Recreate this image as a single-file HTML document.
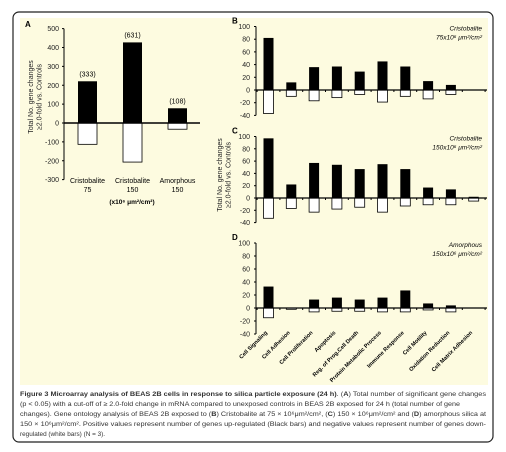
<!DOCTYPE html>
<html><head><meta charset="utf-8"><style>
body{margin:0;background:#fff;width:506px;height:452px;overflow:hidden;font-family:"Liberation Sans",sans-serif}
svg{display:block}
</style></head><body>
<svg width="506" height="452" font-family="Liberation Sans, sans-serif">
<rect x="13" y="12" width="480" height="430" rx="6" fill="#fff" stroke="#222" stroke-width="1.2"/>
<rect x="20" y="18" width="468" height="367" fill="#fdfbe0"/>
<g id="A"></g>
<g id="B"></g>
<g id="C"></g>
<g id="D"></g>
<g id="cats"></g>
<g font-size="6.4" fill="#333">
<text x="20" y="396" textLength="466" lengthAdjust="spacingAndGlyphs"><tspan font-weight="bold">Figure 3 Microarray analysis of BEAS 2B cells in response to silica particle exposure (24 h)</tspan>. (<tspan font-weight="bold">A</tspan>) Total number of significant gene changes</text>
<text x="20" y="406" textLength="440" lengthAdjust="spacingAndGlyphs">(p &lt; 0.05) with a cut-off of ≥ 2.0-fold change in mRNA compared to unexposed controls in BEAS 2B exposed for 24 h (total number of gene</text>
<text x="20" y="416" textLength="466" lengthAdjust="spacingAndGlyphs">changes). Gene ontology analysis of BEAS 2B exposed to (<tspan font-weight="bold">B</tspan>) Cristobalite at 75 × 10⁶μm²/cm², (<tspan font-weight="bold">C</tspan>) 150 × 10⁶μm²/cm² and (<tspan font-weight="bold">D</tspan>) amorphous silica at</text>
<text x="20" y="426" textLength="466" lengthAdjust="spacingAndGlyphs">150 × 10⁶μm²/cm². Positive values represent number of genes up-regulated (Black bars) and negative values represent number of genes down-</text>
<text x="20" y="436">regulated (white bars) (N = 3).</text>
</g>
</svg>
<script>
const NS="http://www.w3.org/2000/svg";
const aCats=["Cristobalite|75","Cristobalite|150","Amorphous|150"];
const aUp=[221,427,78];
const aDown=[-113,-207,-33];
const aTotals=["(333)","(631)","(108)"];
const aTicks=[500,400,300,200,100,0,-100,-200,-300];
const goCats=["Cell Signaling","Cell Adhesion","Cell Proliferation","Apoptosis","Reg. of Prog.Cell Death","Protein Metabolic Process","Immune Response","Cell Motility","Oxidation Reduction","Cell Matrix Adhesion"];
const bUp=[82,12,36,37,29,45,37,14,8,0];
const bDown=[-37,-10,-17,-12,-7,-19,-10,-14,-7,0];
const cUp=[97,22,57,54,47,55,47,17,14,2];
const cDown=[-33,-17,-23,-18,-15,-23,-13,-11,-11,-5];
const dUp=[33,0,13,16,13,16,27,7,4,0];
const dDown=[-15,-2,-6,-5,-5,-6,-6,-3,-6,0];
const goTicks=[100,80,60,40,20,0,-20,-40];
function el(p,t,a,txt){const e=document.createElementNS(NS,t);for(const k in a)e.setAttribute(k,a[k]);if(txt!==undefined)e.textContent=txt;p.appendChild(e);return e;}
(function(){
 const g=document.getElementById('A');
 const y=v=>123-(v)*151/800;
 const x0=64;
 el(g,'text',{x:25,y:27,'font-size':8,'font-weight':'bold'},'A');
 let ax=el(g,'line',{x1:x0,y1:y(500),x2:x0,y2:y(-300),stroke:'#000','stroke-width':1});
 
 aTicks.forEach(t=>{el(g,'line',{x1:x0-2,x2:x0,y1:y(t),y2:y(t),stroke:'#000'});
  const tx=el(g,'text',{x:x0-5,y:y(t)+2.5,'font-size':7,'text-anchor':'end',fill:'#222'},t);
  });
 const xc=i=>87.5+i*45;
 aCats.forEach((c,i)=>{
  const bu=el(g,'rect',{x:xc(i)-9.5,y:y(aUp[i]),width:19,height:y(0)-y(aUp[i]),fill:'#000'});
  
  const bd=el(g,'rect',{x:xc(i)-9.5,y:y(0),width:19,height:y(aDown[i])-y(0),fill:'#fff',stroke:'#000','stroke-width':0.8});
  
  const tl=el(g,'text',{x:xc(i),y:y(aUp[i])-5,'font-size':7,'text-anchor':'middle'},aTotals[i]);
  
  const p=c.split('|');
  el(g,'text',{x:xc(i),y:183,'font-size':7,'text-anchor':'middle'},p[0]);
  el(g,'text',{x:xc(i),y:192,'font-size':7,'text-anchor':'middle'},p[1]);
 });
 const xa=el(g,'line',{x1:x0,x2:200,y1:y(0),y2:y(0),stroke:'#000','stroke-width':1.5});
 
 el(g,'text',{x:132,y:204,'font-size':6.5,'font-weight':'bold','text-anchor':'middle'},'(x10⁶ μm²/cm²)');
 const yt=el(g,'text',{transform:'translate(33,97) rotate(-90)','font-size':7,'text-anchor':'middle',fill:'#222'});
 
 el(yt,'tspan',{x:0,y:0},'Total No. gene changes');el(yt,'tspan',{x:0,y:8.5},'≥2.0-fold vs. Controls');
})();
function goPanel(id,letter,zeroY,pxPer20,up,down,l1,l2){
 const g=document.getElementById(id);
 const y=v=>zeroY-v*pxPer20/20;
 const x0=256;
 el(g,'text',{x:x0-24,y:y(100)-3,'font-size':8,'font-weight':'bold'},letter);
 const ax=el(g,'line',{x1:x0,x2:x0,y1:y(100),y2:y(-40),stroke:'#000'});
 
 goTicks.forEach(t=>{el(g,'line',{x1:x0-2,x2:x0,y1:y(t),y2:y(t),stroke:'#000'});
  const tx=el(g,'text',{x:x0-6,y:y(t)+2.5,'font-size':7,'text-anchor':'end',fill:'#222'},t);
  });
 const xc=i=>268.5+i*22.8;
 goCats.forEach((c,i)=>{
  if(up[i]>0){const b=el(g,'rect',{x:xc(i)-5,y:y(up[i]),width:10,height:y(0)-y(up[i]),fill:'#000'});
   }
  if(down[i]<0){const b=el(g,'rect',{x:xc(i)-5,y:y(0),width:10,height:y(down[i])-y(0),fill:'#fff',stroke:'#000','stroke-width':0.8});
   }
 });
 const xa=el(g,'line',{x1:x0,x2:487,y1:y(0),y2:y(0),stroke:'#000','stroke-width':1.3});
 
 for(let i=0;i<=goCats.length;i++)el(g,'line',{x1:xc(i)-11.4,x2:xc(i)-11.4,y1:y(0),y2:y(0)+2,stroke:'#000'});
 el(g,'text',{x:482,y:y(100)+4,'font-size':6.5,'font-style':'italic','text-anchor':'end'},l1);
 el(g,'text',{x:482,y:y(100)+13,'font-size':6.5,'font-style':'italic','text-anchor':'end'},l2);
 return xc;
}
goPanel('B','B',90,12.7,bUp,bDown,'Cristobalite','75x10⁶ μm²/cm²');
goPanel('C','C',198,12.3,cUp,cDown,'Cristobalite','150x10⁶ μm²/cm²');
const xcD=goPanel('D','D',308,13,dUp,dDown,'Amorphous','150x10⁶ μm²/cm²');
(function(){
 const g=document.getElementById('C');
 const yt=el(g,'text',{transform:'translate(222,175) rotate(-90)','font-size':7,'text-anchor':'middle',fill:'#222'});
 
 el(yt,'tspan',{x:0,y:0},'Total No. gene changes');el(yt,'tspan',{x:0,y:8.5},'≥2.0-fold vs. Controls');
 const cg=document.getElementById('cats');
 goCats.forEach((c,i)=>{
  const t=el(cg,'text',{transform:`translate(${xcD(i)-1},${333}) rotate(-45)`,'font-size':5.6,'font-weight':'bold','text-anchor':'end'},c);
  
 });
})();
</script>
</body></html>
